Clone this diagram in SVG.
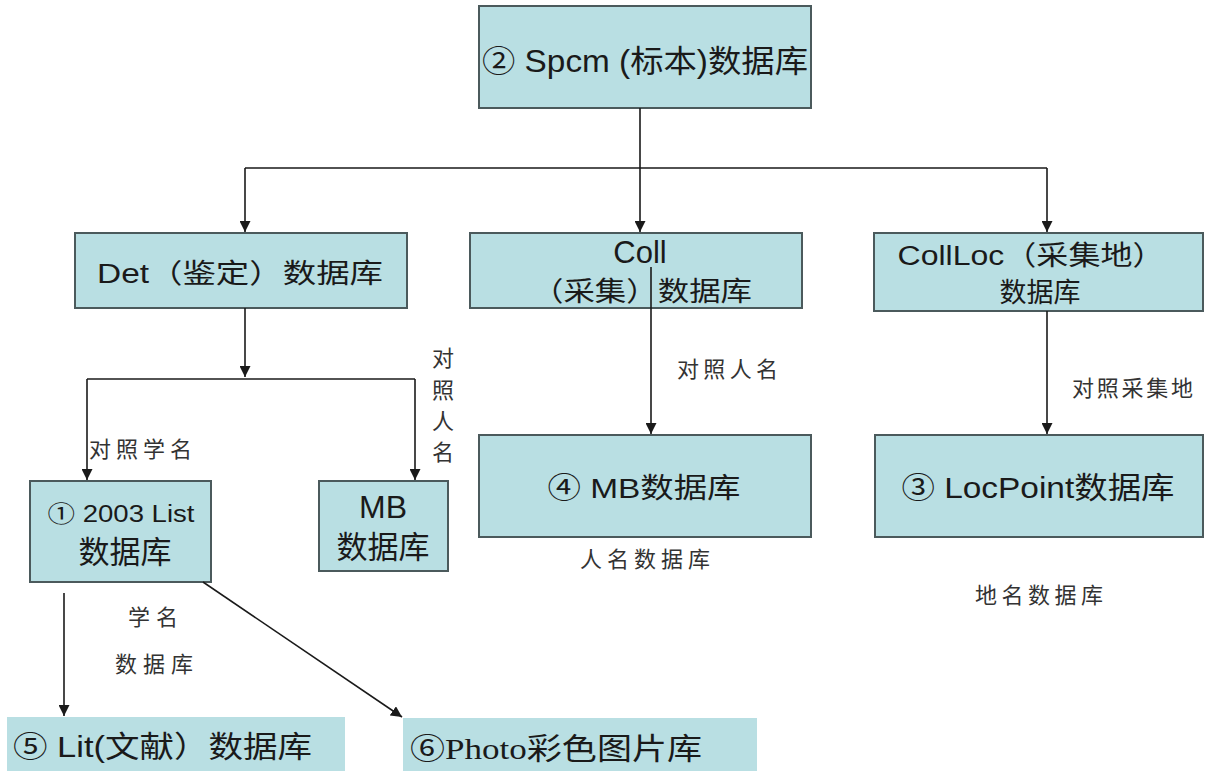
<svg xmlns="http://www.w3.org/2000/svg" width="1205" height="771" viewBox="0 0 1205 771">
<style>
.box{fill:#b9dfe3;stroke:#4b5a5c;stroke-width:2}
.bare{fill:#b9dfe3}
.t{font-family:"Liberation Sans","Noto Sans CJK SC",sans-serif;fill:#1a1a1a}
.lb{font-family:"Liberation Sans","Noto Sans CJK SC",sans-serif;fill:#333;font-size:22px}
.c{fill:none;stroke:#1a1a1a;stroke-width:1.6}
</style>
<defs>
<marker id="arr" viewBox="0 0 10 10" refX="10" refY="5" markerWidth="11" markerHeight="11" markerUnits="userSpaceOnUse" orient="auto">
<path d="M0,0 L10,5 L0,10 z" fill="#1a1a1a"/>
</marker>
</defs>
<rect width="1205" height="771" fill="#fff"/>
<g id="spcm"><rect class="box" x="479" y="6" width="332" height="102"/>
<text class="t" x="645" y="72" font-size="31" text-anchor="middle" textLength="326" lengthAdjust="spacingAndGlyphs">② Spcm (标本)数据库</text></g>
<g id="det"><rect class="box" x="75" y="233" width="332" height="75"/>
<text class="t" x="240" y="283" font-size="27" text-anchor="middle" textLength="286" lengthAdjust="spacingAndGlyphs">Det（鉴定）数据库</text></g>
<g id="coll"><rect class="box" x="470" y="233" width="332" height="75"/>
<text class="t" x="640" y="263" font-size="31" text-anchor="middle">Coll</text>
<text class="t" x="642" y="301" font-size="27" text-anchor="middle" textLength="220" lengthAdjust="spacingAndGlyphs">（采集）数据库</text></g>
<g id="collloc"><rect class="box" x="874" y="233" width="329" height="78"/>
<text class="t" x="1031" y="265" font-size="27" text-anchor="middle" textLength="267" lengthAdjust="spacingAndGlyphs">CollLoc（采集地）</text>
<text class="t" x="1040" y="302" font-size="27" text-anchor="middle">数据库</text></g>
<g id="list2003"><rect class="box" x="30" y="481" width="181" height="101"/>
<text class="t" x="121" y="522" font-size="23" text-anchor="middle" textLength="147" lengthAdjust="spacingAndGlyphs">① 2003 List</text>
<text class="t" x="125" y="563" font-size="31" text-anchor="middle">数据库</text></g>
<g id="mb"><rect class="box" x="319" y="481" width="129" height="90"/>
<text class="t" x="383" y="518" font-size="32" text-anchor="middle">MB</text>
<text class="t" x="383" y="558" font-size="31" text-anchor="middle">数据库</text></g>
<g id="mb4"><rect class="box" x="479" y="435" width="332" height="102"/>
<text class="t" x="644" y="498" font-size="28" text-anchor="middle" textLength="193" lengthAdjust="spacingAndGlyphs">④ MB数据库</text>
<text class="lb" x="645" y="567" text-anchor="middle" textLength="130" lengthAdjust="spacing">人名数据库</text></g>
<g id="locpoint"><rect class="box" x="875" y="435" width="328" height="102"/>
<text class="t" x="1038" y="498" font-size="30" text-anchor="middle" textLength="273" lengthAdjust="spacingAndGlyphs">③ LocPoint数据库</text>
<text class="lb" x="1039" y="603" text-anchor="middle" textLength="128" lengthAdjust="spacing">地名数据库</text></g>
<g id="lit"><rect class="bare" x="7" y="717" width="338" height="54"/>
<text class="t" x="13" y="757" font-size="30" textLength="299" lengthAdjust="spacingAndGlyphs">⑤ Lit(文献）数据库</text></g>
<g id="photo"><rect class="bare" x="403" y="718" width="354" height="53"/>
<text x="410" y="759" font-family="'Liberation Serif','Noto Sans CJK SC',serif" fill="#1a1a1a" font-size="30" textLength="292" lengthAdjust="spacingAndGlyphs">⑥Photo彩色图片库</text></g>
<g id="labels">
<text class="lb" x="677" y="377" textLength="101" lengthAdjust="spacing">对照人名</text>
<text class="lb" x="1072" y="396" textLength="121" lengthAdjust="spacing">对照采集地</text>
<text class="lb" x="89" y="457" textLength="103" lengthAdjust="spacing">对照学名</text>
<text class="lb" x="443" y="366" text-anchor="middle">对</text>
<text class="lb" x="443" y="398" text-anchor="middle">照</text>
<text class="lb" x="443" y="429" text-anchor="middle">人</text>
<text class="lb" x="443" y="460" text-anchor="middle">名</text>
<text class="lb" x="153" y="625" text-anchor="middle" textLength="50" lengthAdjust="spacing">学名</text>
<text class="lb" x="154" y="672" text-anchor="middle" textLength="78" lengthAdjust="spacing">数据库</text>
</g>
<g id="connectors">
<path class="c" d="M640,108 V168 M245,168 H1047"/>
<path class="c" d="M245,168 V232" marker-end="url(#arr)"/>
<path class="c" d="M640,168 V232" marker-end="url(#arr)"/>
<path class="c" d="M1047,168 V232" marker-end="url(#arr)"/>
<path class="c" d="M245,308 V377" marker-end="url(#arr)"/>
<path class="c" d="M87,379 H415"/>
<path class="c" d="M87,379 V480" marker-end="url(#arr)"/>
<path class="c" d="M415,379 V480" marker-end="url(#arr)"/>
<path class="c" d="M651,267 V434" marker-end="url(#arr)"/>
<path class="c" d="M1047,311 V434" marker-end="url(#arr)"/>
<path class="c" d="M64,593 V716" marker-end="url(#arr)"/>
<path class="c" d="M203,582 L402,717" marker-end="url(#arr)"/>
</g>
</svg>
